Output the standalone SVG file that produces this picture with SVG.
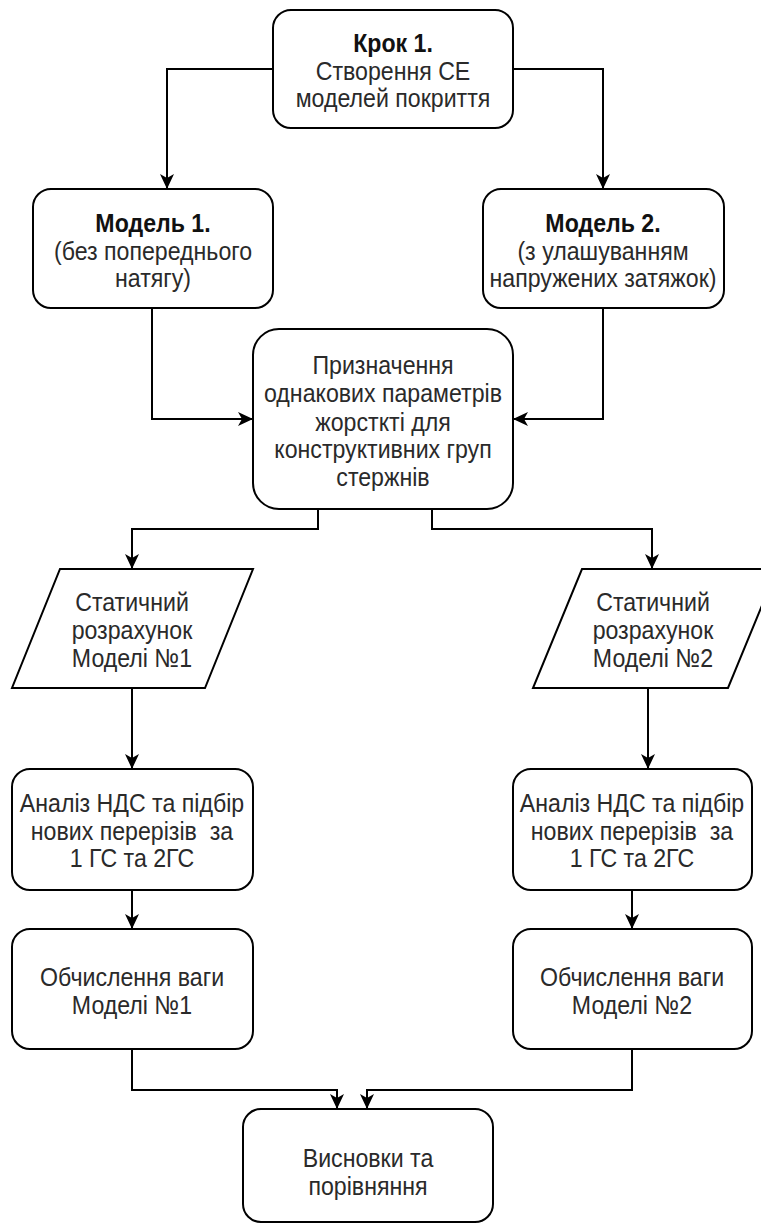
<svg xmlns="http://www.w3.org/2000/svg" width="761" height="1225" viewBox="0 0 761 1225">
<style>
.n{fill:#fff;stroke:#000;stroke-width:2}
.t{font-family:"Liberation Sans",Arial,sans-serif;font-size:26px;fill:#2a2a2a;text-anchor:middle}
.b{font-weight:bold;fill:#111}
.c{fill:none;stroke:#000;stroke-width:2}
</style>
<defs>
<marker id="a" markerUnits="userSpaceOnUse" markerWidth="15" markerHeight="14" refX="15" refY="7" orient="auto">
<path d="M0,0 L15,7 L0,14 L4,7 Z" fill="#000"/>
</marker>
</defs>
<rect width="761" height="1225" fill="#fff"/>
<g id="connectors">
<path class="c" marker-end="url(#a)" d="M273,69 H167 V189"/>
<path class="c" marker-end="url(#a)" d="M513,69 H603 V189"/>
<path class="c" marker-end="url(#a)" d="M152,308 V419 H253"/>
<path class="c" marker-end="url(#a)" d="M603,308 V419 H513"/>
<path class="c" marker-end="url(#a)" d="M318,509 V529 H132 V569"/>
<path class="c" marker-end="url(#a)" d="M432,509 V529 H652 V569"/>
<path class="c" marker-end="url(#a)" d="M132,688 V769"/>
<path class="c" marker-end="url(#a)" d="M648,688 V769"/>
<path class="c" marker-end="url(#a)" d="M132,890 V929"/>
<path class="c" marker-end="url(#a)" d="M632,890 V929"/>
<path class="c" marker-end="url(#a)" d="M132,1049 V1090 H337 V1109"/>
<path class="c" marker-end="url(#a)" d="M632,1049 V1090 H367 V1109"/>
</g>
<g id="step1">
<rect class="n" x="273" y="10" width="240" height="118" rx="18"/>
<g transform="translate(393,0) scale(0.89,1)">
<text class="t b" x="0" y="52">Крок 1.</text>
<text class="t" x="0" y="80">Створення СЕ</text>
<text class="t" x="0" y="107">моделей покриття</text>
</g>
</g>
<g id="model1">
<rect class="n" x="33" y="189" width="240" height="119" rx="18"/>
<g transform="translate(153,0) scale(0.89,1)">
<text class="t b" x="0" y="232">Модель 1.</text>
<text class="t" x="0" y="260">(без попереднього</text>
<text class="t" x="0" y="287">натягу)</text>
</g>
</g>
<g id="model2">
<rect class="n" x="483" y="189" width="241" height="119" rx="18"/>
<g transform="translate(603,0) scale(0.89,1)">
<text class="t b" x="0" y="232">Модель 2.</text>
<text class="t" x="0" y="260">(з улашуванням</text>
<text class="t" x="0" y="287">напружених затяжок)</text>
</g>
</g>
<g id="assign">
<rect class="n" x="253" y="329" width="260" height="180" rx="26"/>
<g transform="translate(383,0) scale(0.89,1)">
<text class="t" x="0" y="374">Призначення</text>
<text class="t" x="0" y="402">однакових параметрів</text>
<text class="t" x="0" y="431">жорсткті для</text>
<text class="t" x="0" y="458">конструктивних груп</text>
<text class="t" x="0" y="486">стержнів</text>
</g>
</g>
<g id="static1">
<path class="n" d="M60,569 H253 L205,688 H12 Z"/>
<g transform="translate(132,0) scale(0.89,1)">
<text class="t" x="0" y="611">Статичний</text>
<text class="t" x="0" y="639">розрахунок</text>
<text class="t" x="0" y="667">Моделі №1</text>
</g>
</g>
<g id="static2">
<path class="n" d="M582,569 H777 L728,688 H533 Z"/>
<g transform="translate(653,0) scale(0.89,1)">
<text class="t" x="0" y="611">Статичний</text>
<text class="t" x="0" y="639">розрахунок</text>
<text class="t" x="0" y="667">Моделі №2</text>
</g>
</g>
<g id="analysis1">
<rect class="n" x="12" y="769" width="241" height="121" rx="18"/>
<g transform="translate(132,0) scale(0.89,1)">
<text class="t" x="0" y="812">Аналіз НДС та підбір</text>
<text class="t" x="0" y="840" xml:space="preserve">нових перерізів  за</text>
<text class="t" x="0" y="867">1 ГС та 2ГС</text>
</g>
</g>
<g id="analysis2">
<rect class="n" x="513" y="769" width="239" height="121" rx="18"/>
<g transform="translate(632,0) scale(0.89,1)">
<text class="t" x="0" y="812">Аналіз НДС та підбір</text>
<text class="t" x="0" y="840" xml:space="preserve">нових перерізів  за</text>
<text class="t" x="0" y="867">1 ГС та 2ГС</text>
</g>
</g>
<g id="weight1">
<rect class="n" x="12" y="929" width="241" height="120" rx="18"/>
<g transform="translate(132,0) scale(0.89,1)">
<text class="t" x="0" y="986">Обчислення ваги</text>
<text class="t" x="0" y="1014">Моделі №1</text>
</g>
</g>
<g id="weight2">
<rect class="n" x="513" y="929" width="239" height="120" rx="18"/>
<g transform="translate(632,0) scale(0.89,1)">
<text class="t" x="0" y="986">Обчислення ваги</text>
<text class="t" x="0" y="1014">Моделі №2</text>
</g>
</g>
<g id="conclusion">
<rect class="n" x="243" y="1109" width="250" height="113" rx="18"/>
<g transform="translate(368,0) scale(0.89,1)">
<text class="t" x="0" y="1167">Висновки та</text>
<text class="t" x="0" y="1195">порівняння</text>
</g>
</g>
</svg>
